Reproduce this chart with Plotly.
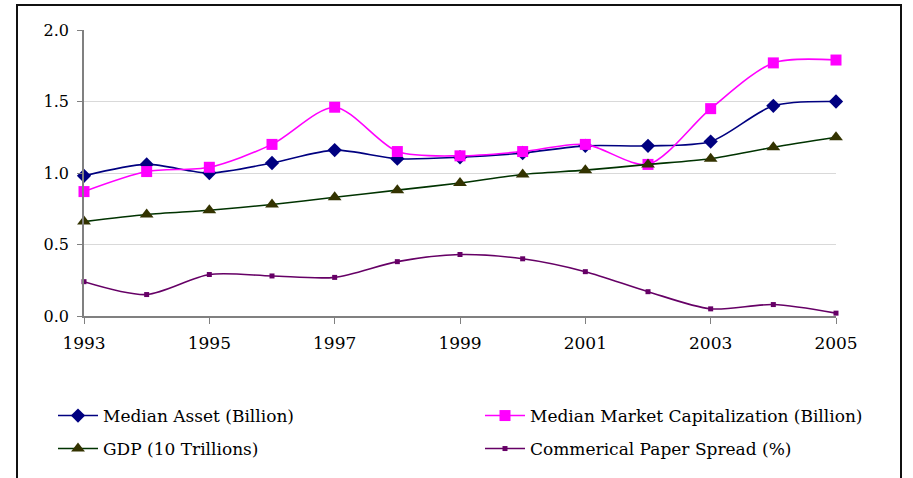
import plotly.graph_objects as go

years = list(range(1993, 2006))
median_asset = [0.98, 1.06, 1.00, 1.07, 1.16, 1.10, 1.11, 1.14, 1.19, 1.19, 1.22, 1.47, 1.50]
market_cap = [0.87, 1.01, 1.04, 1.20, 1.46, 1.15, 1.12, 1.15, 1.20, 1.06, 1.45, 1.77, 1.79]
gdp = [0.66, 0.71, 0.74, 0.78, 0.83, 0.88, 0.93, 0.99, 1.02, 1.06, 1.10, 1.18, 1.25]
cp_spread = [0.24, 0.15, 0.29, 0.28, 0.27, 0.38, 0.43, 0.40, 0.31, 0.17, 0.05, 0.08, 0.02]
x_ticks = [1993, 1995, 1997, 1999, 2001, 2003, 2005]
y_ticks = [0.0, 0.5, 1.0, 1.5, 2.0]

W, H = 913, 478
# name, values, line colour, marker colour, symbol, size, legend id, legend (x, y) px
series = [
    ("Median Asset (Billion)", median_asset, "#000080", "#000080", "diamond", 11, "legend", (53, 416)),
    ("Median Market Capitalization (Billion)", market_cap, "#FF00FF", "#FF00FF", "square", 11, "legend2", (480, 416)),
    ("GDP (10 Trillions)", gdp, "#003300", "#333300", "triangle-up", 12, "legend3", (53, 449)),
    ("Commerical Paper Spread (%)", cp_spread, "#660066", "#660066", "square", 5, "legend4", (480, 449)),
]

fig = go.Figure()
legends = {}
for name, vals, lc, mc, sym, sz, lg, (lx, ly) in series:
    fig.add_trace(go.Scatter(
        x=years, y=vals, name=name, mode="lines+markers",
        line=dict(color=lc, width=1.6, shape="spline", smoothing=0.8),
        marker=dict(color=mc, symbol=sym, size=sz, line=dict(width=0)),
        cliponaxis=False, legend=lg,
    ))
    legends[lg] = dict(orientation="h", xanchor="left", yanchor="middle",
                       x=lx / W, y=1 - ly / H, xref="container", yref="container",
                       font=dict(family="DejaVu Serif", size=17), itemwidth=40,
                       bgcolor="rgba(0,0,0,0)")

L, R, T, B = 84, 77, 30, 162
pw, ph = W - L - R, H - T - B

def px_x(p):
    return (p - L) / pw

def px_y(p):
    return (H - B - p) / ph

fig.add_shape(type="rect", xref="paper", yref="paper",
              x0=px_x(17), x1=px_x(901), y0=px_y(495), y1=px_y(5),
              line=dict(color="#111111", width=2), fillcolor="rgba(0,0,0,0)", layer="below")

fig.update_layout(
    width=W, height=H,
    margin=dict(l=L, r=R, t=T, b=B, autoexpand=False),
    paper_bgcolor="white", plot_bgcolor="white",
    font=dict(family="DejaVu Serif", size=14, color="#000000"),
    showlegend=True,
    xaxis=dict(range=[1993, 2005], tickvals=x_ticks, ticktext=[str(v) for v in x_ticks],
               showgrid=False, zeroline=False, showline=True, linecolor="#808080", linewidth=1.5,
               ticks="outside", ticklen=6, tickcolor="#808080", ticklabelstandoff=5,
               tickfont=dict(family="DejaVu Serif", size=17)),
    yaxis=dict(range=[0, 2.0], tickvals=y_ticks, ticktext=[f"{v:.1f}" for v in y_ticks],
               showgrid=True, gridcolor="#d9d9d9", gridwidth=1, zeroline=False,
               showline=True, linecolor="#808080", linewidth=1.5,
               ticks="outside", ticklen=5, tickcolor="#808080", ticklabelstandoff=5,
               tickfont=dict(family="DejaVu Serif", size=16)),
    **legends,
)

fig.write_html("out.html")
